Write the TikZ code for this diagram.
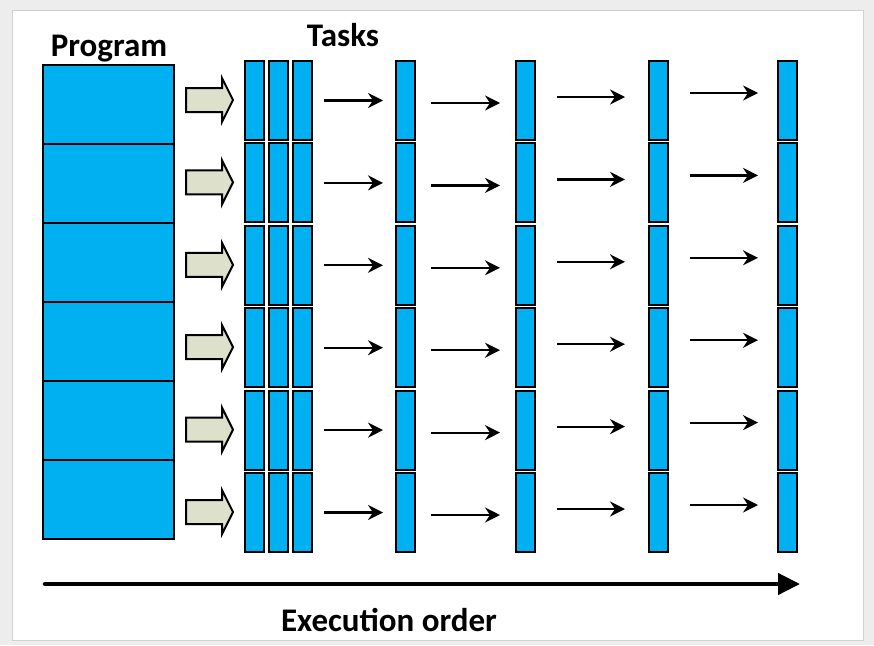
\documentclass[tikz,border=0pt]{standalone}
\usepackage{fontspec}
\setmainfont{Carlito}
\usetikzlibrary{arrows.meta}
\definecolor{taskblue}{RGB}{0,176,240}
\definecolor{pushfill}{RGB}{221,225,203}

\tikzset{
  block/.style={draw, line width=2pt, fill=taskblue, inner sep=0pt, anchor=north west},
  progbox/.style={block, minimum width=131pt, minimum height=79pt},
  taskbar/.style={block, minimum width=19pt, minimum height=79pt},
  push/.style={draw, line width=2pt, fill=pushfill, line join=miter},
  flow/.style={line width=2.2pt, -{Stealth[length=15pt,width=15pt,inset=5pt]}},
  title/.style={font=\fontsize{33}{40}\selectfont\bfseries, inner sep=0pt, anchor=base},
}

\begin{document}
\begin{tikzpicture}[x=1pt,y=-1pt]
  % page frame
  \fill[black!7] (0,0) rectangle (874,645);
  \fill[white] (12,10) rectangle (863,640);
  \draw[black!18, line width=1pt] (12,10) rectangle (863,640);

  % program split into parts
  \foreach \r in {1,...,6} {
    \node[progbox] (p\r) at (42,{64+79*(\r-1)}) {};
  }
  \node[title] (prog) at (109,56) {Program};
  \node[title] (tasks) at (343,46) {Tasks};

  % task rows
  \foreach \r in {1,...,6} {
    \pgfmathsetmacro\ytop{60+82.4*(\r-1)}
    \foreach \c/\x in {1/244,2/268,3/292,4/395,5/515,6/648,7/777}
      \node[taskbar] (t\c-\r) at (\x,\ytop) {};
    \coordinate (a\r) at (186,\ytop+40);
    \draw[push] (a\r) ++(0,-12) -- ++(36,0) -- ++(0,-10) -- ++(11,22)
      -- ++(-11,22) -- ++(0,-10) -- ++(-36,0) -- cycle;
    \draw[flow] ([xshift=11pt]t3-\r.east) -- ([xshift=-12pt]t4-\r.west);
    \draw[flow] ([xshift=15pt,yshift=-2.5pt]t4-\r.east) -- ([xshift=-15pt,yshift=-2.5pt]t5-\r.west);
    \draw[flow] ([xshift=21pt,yshift=3.5pt]t5-\r.east) -- ([xshift=-23pt,yshift=3.5pt]t6-\r.west);
    \draw[flow] ([xshift=21pt,yshift=7.5pt]t6-\r.east) -- ([xshift=-19pt,yshift=7.5pt]t7-\r.west);
  }

  % execution order
  \coordinate (start) at (45,584);
  \coordinate (stop) at (800,584);
  \draw[line width=4.5pt, line cap=round, -{Triangle[length=22pt,width=21pt]}] (start) -- (stop);
  \node[title] (order) at (389,631) {Execution order};
\end{tikzpicture}
\end{document}
